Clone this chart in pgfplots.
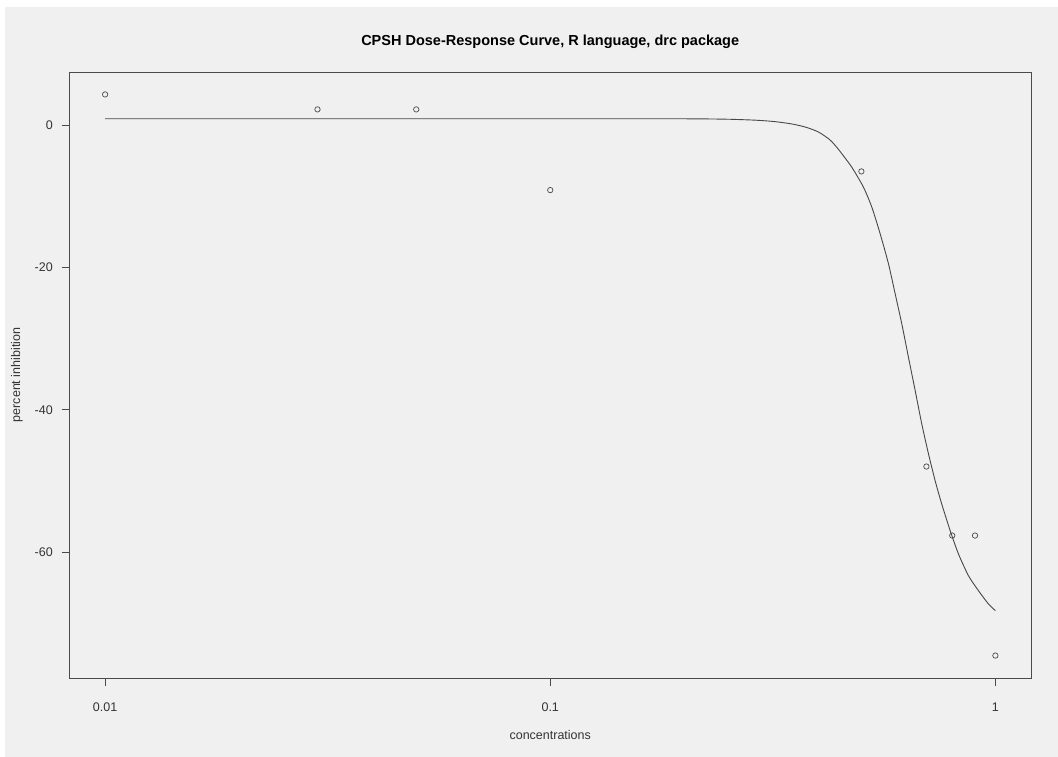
\documentclass[border=0pt]{standalone}
\usepackage{fontspec}
\setmainfont{Liberation Sans}
\usepackage{pgfplots}
\pgfplotsset{compat=1.18}
\definecolor{bgray}{HTML}{F0F0F0}
\definecolor{ink}{HTML}{4A4A4A}
\begin{document}
\begin{tikzpicture}[x=1pt,y=1pt]
\path[use as bounding box] (0,0) rectangle (1058,757);
\fill[white] (0,0) rectangle (1058,757);
\fill[bgray] (5,0) rectangle (1058,750);
\begin{axis}[
  at={(69.5pt,79pt)}, anchor=south west,
  scale only axis, width=961.5pt, height=606pt,
  xmode=log, log basis x=10,
  xmin=0.0083176, xmax=1.2022644,
  ymin=-77.65, ymax=7.43,
  xtick={0.01,0.1,1}, xticklabels={0.01,0.1,1},
  ytick={-60,-40,-20,0}, yticklabels={-60,-40,-20,0},
  xminorticks=false, yminorticks=false,
  tick pos=left, tick align=outside,
  major tick length=8pt,
  every tick/.style={ink, line width=0.8pt},
  axis line style={ink, line width=0.9pt},
  /pgf/number format/assume math mode=true,
  xticklabel style={font=\fontsize{12.5}{15}\selectfont, text=black!80, inner sep=0pt, anchor=north, yshift=-16.5pt},
  yticklabel style={font=\fontsize{12.5}{15}\selectfont, text=black!80, inner sep=0pt, anchor=east, xshift=-8.5pt},
  every axis title shift=0pt,
  title={\textbf{CPSH Dose-Response Curve, R language, drc package}},
  title style={font=\fontsize{14.5}{17}\selectfont, at={(axis description cs:0.5,1.0437)}, anchor=base, inner sep=0pt},
  xlabel={concentrations},
  xlabel style={font=\fontsize{12.5}{15}\selectfont, text=black!80, at={(axis description cs:0.5,-0.1023)}, anchor=base, inner sep=0pt},
  ylabel={percent inhibition},
  ylabel style={font=\fontsize{12.5}{15}\selectfont, text=black!80, at={(axis description cs:-0.0514,0.5)}, anchor=base, rotate=0, inner sep=0pt},
  axis background/.style={fill=bgray},
]
\addplot[black!72, line width=0.9pt, mark=none, smooth, tension=0.4] coordinates {
(0.01,0.87) (0.1,0.87) (0.2,0.86) (0.25,0.80) (0.29,0.66) (0.32,0.46)
(0.35,0.12) (0.375,-0.32) (0.40,-0.98) (0.425,-2.1) (0.4443,-3.45)
(0.4757,-5.93) (0.5054,-8.74) (0.5277,-11.54) (0.5510,-15.28)
(0.5752,-19.49) (0.5955,-23.71) (0.6162,-27.92) (0.6378,-32.61)
(0.6604,-37.29) (0.6833,-41.97) (0.7075,-46.18) (0.7321,-49.93)
(0.7575,-53.20) (0.7914,-56.95) (0.8259,-60.22) (0.8697,-63.27)
(0.9159,-65.38) (0.9645,-67.25) (1.0,-68.19)
};
\addplot[only marks, mark=o, mark size=2.7pt, mark options={ink, line width=0.7pt}] coordinates {
(0.01,4.28) (0.03,2.18) (0.05,2.18) (0.1,-9.15) (0.5,-6.53)
(0.7,-47.96) (0.8,-57.65) (0.9,-57.65) (1,-74.5)
};
\end{axis}
\end{tikzpicture}
\end{document}
